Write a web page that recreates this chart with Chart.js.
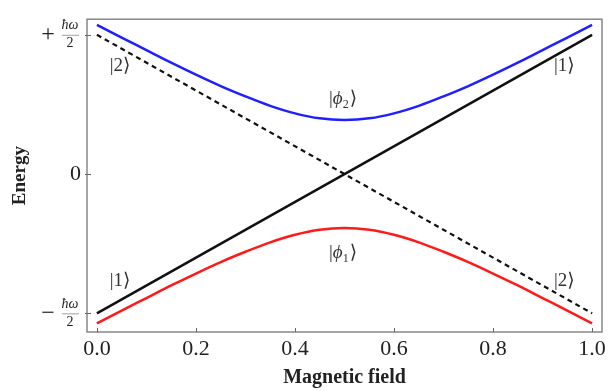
<!DOCTYPE html>
<html>
<head>
<meta charset="utf-8">
<script src="https://cdn.jsdelivr.net/npm/chart.js@4.4.1/dist/chart.umd.min.js"></script>
<style>
  html, body { margin: 0; padding: 0; background: #fff; }
</style>
</head>
<body>
<canvas id="levels" width="610" height="391"></canvas>
<script>
// magnetic field samples and energies (units of hbar*omega)
const field = [0, 0.05, 0.1, 0.15, 0.2, 0.25, 0.3, 0.35, 0.4, 0.45, 0.5,
               0.55, 0.6, 0.65, 0.7, 0.75, 0.8, 0.85, 0.9, 0.95, 1];
const upperEnergy = [0.536, 0.49, 0.445, 0.4, 0.357, 0.316, 0.279, 0.245, 0.218, 0.2, 0.194,
                     0.2, 0.218, 0.245, 0.279, 0.316, 0.357, 0.4, 0.445, 0.49, 0.536];
const lowerEnergy = [-0.536, -0.49, -0.445, -0.4, -0.357, -0.316, -0.279, -0.245, -0.218, -0.2, -0.194,
                     -0.2, -0.218, -0.245, -0.279, -0.316, -0.357, -0.4, -0.445, -0.49, -0.536];
const diabaticField = [0, 1];
const state1Energy = [-0.5, 0.5];
const state2Energy = [0.5, -0.5];

const xTicks = [0, 0.2, 0.4, 0.6, 0.8, 1];
const yTicks = [-0.5, 0, 0.5];

// state labels: [ket content, subscript, field, energy]
const stateLabels = [
    ['2', '', 0.048, 0.387],
    ['1', '', 0.945, 0.387],
    ['\u03D5', '2', 0.497, 0.268],
    ['\u03D5', '1', 0.497, -0.285],
    ['1', '', 0.048, -0.384],
    ['2', '', 0.945, -0.384],
];

const SERIF = '"Liberation Serif", "DejaVu Serif", serif';

function toPoints(xs, ys) {
    return xs.map((x, i) => ({ x: x, y: ys[i] }));
}

// frame, inward ticks, fraction tick labels and ket labels
const decorPlugin = {
    id: 'decor',
    afterDraw(chart) {
        const ctx = chart.ctx;
        const area = chart.chartArea;
        const xs = chart.scales.x;
        const ys = chart.scales.y;
        ctx.save();

        ctx.strokeStyle = '#888';
        ctx.lineWidth = 1.5;
        ctx.strokeRect(area.left, area.top, area.right - area.left, area.bottom - area.top);

        ctx.strokeStyle = '#666';
        ctx.lineWidth = 1;
        ctx.beginPath();
        xTicks.forEach((v) => {
            const px = Math.round(xs.getPixelForValue(v)) + 0.5;
            ctx.moveTo(px, area.bottom);
            ctx.lineTo(px, area.bottom - 4);
        });
        yTicks.forEach((v) => {
            const py = Math.round(ys.getPixelForValue(v)) + 0.5;
            ctx.moveTo(area.left - 2, py);
            ctx.lineTo(area.left + 4, py);
        });
        ctx.stroke();

        // +/- hbar omega / 2
        ctx.fillStyle = '#222';
        ctx.textAlign = 'center';
        ctx.textBaseline = 'middle';
        [[0.5, '+'], [-0.5, '\u2212']].forEach(([v, sign]) => {
            const py = ys.getPixelForValue(v);
            ctx.font = '24px ' + SERIF;
            ctx.fillText(sign, 48, py);
            ctx.font = 'italic 14px ' + SERIF;
            ctx.fillText('\u0127\u03C9', 70, py - 9);
            ctx.font = '14px ' + SERIF;
            ctx.fillText('2', 70, py + 9);
            ctx.beginPath();
            ctx.strokeStyle = '#888';
            ctx.lineWidth = 0.8;
            ctx.moveTo(62, py + 0.5);
            ctx.lineTo(79, py + 0.5);
            ctx.stroke();
        });

        ctx.fillStyle = '#333';
        ctx.textAlign = 'left';
        stateLabels.forEach(([core, sub, fx, fy]) => {
            const px = xs.getPixelForValue(fx);
            const py = ys.getPixelForValue(fy);
            const coreFont = (sub ? 'italic ' : '') + '19px ' + SERIF;
            ctx.font = '19px ' + SERIF;
            const wBar = ctx.measureText('|').width;
            const wRight = ctx.measureText('\u27E9').width;
            ctx.font = coreFont;
            const wCore = ctx.measureText(core).width;
            ctx.font = '12px ' + SERIF;
            const wSub = sub ? ctx.measureText(sub).width : 0;
            let x0 = px - (wBar + wCore + wSub + wRight + 1) / 2;
            ctx.font = '19px ' + SERIF;
            ctx.fillText('|', x0, py);
            x0 += wBar;
            ctx.font = coreFont;
            ctx.fillText(core, x0, py);
            x0 += wCore;
            if (sub) {
                ctx.font = '12px ' + SERIF;
                ctx.fillText(sub, x0, py + 5);
                x0 += wSub + 1;
            }
            ctx.font = '19px ' + SERIF;
            ctx.fillText('\u27E9', x0, py);
        });
        ctx.restore();
    },
};

new Chart(document.getElementById('levels'), {
    type: 'line',
    data: {
        datasets: [
            {
                label: 'upper',
                data: toPoints(field, upperEnergy),
                borderColor: '#1f1fff',
                borderWidth: 2.5,
                pointRadius: 0,
                cubicInterpolationMode: 'monotone',
            },
            {
                label: 'lower',
                data: toPoints(field, lowerEnergy),
                borderColor: '#ff1a1a',
                borderWidth: 2.5,
                pointRadius: 0,
                cubicInterpolationMode: 'monotone',
            },
            {
                label: 'state 1',
                data: toPoints(diabaticField, state1Energy),
                borderColor: '#111',
                borderWidth: 2.5,
                pointRadius: 0,
            },
            {
                label: 'state 2',
                data: toPoints(diabaticField, state2Energy),
                borderColor: '#111',
                borderWidth: 2.2,
                borderDash: [5, 4],
                pointRadius: 0,
            },
        ],
    },
    options: {
        responsive: false,
        animation: false,
        layout: { padding: { left: 0, top: 13, right: 8, bottom: 0 } },
        plugins: {
            legend: { display: false },
            tooltip: { enabled: false },
        },
        scales: {
            x: {
                type: 'linear',
                min: -0.02,
                max: 1.02,
                afterBuildTicks: (scale) => {
                    scale.ticks = xTicks.map((v) => ({ value: v }));
                },
                afterFit: (scale) => {
                    scale.height = 59;
                },
                grid: { display: false, drawTicks: false },
                border: { display: false },
                ticks: {
                    padding: 4,
                    color: '#222',
                    font: { family: SERIF, size: 22 },
                    maxRotation: 0,
                    callback: (v) => v.toFixed(1),
                },
                title: {
                    display: true,
                    text: 'Magnetic field',
                    color: '#222',
                    font: { family: SERIF, size: 20, weight: 'bold' },
                    padding: { top: 0, bottom: 1 },
                },
            },
            y: {
                type: 'linear',
                min: -0.567,
                max: 0.556,
                afterBuildTicks: (scale) => {
                    scale.ticks = yTicks.map((v) => ({ value: v }));
                },
                afterFit: (scale) => {
                    scale.width = 87;
                },
                grid: { display: false, drawTicks: false },
                border: { display: false },
                ticks: {
                    padding: 6,
                    color: '#222',
                    font: { family: SERIF, size: 22 },
                    callback: (v) => (v === 0 ? '0' : ''),
                },
                title: {
                    display: true,
                    text: 'Energy',
                    color: '#222',
                    font: { family: SERIF, size: 19, weight: 'bold' },
                    padding: { top: 9, bottom: 0 },
                },
            },
        },
    },
    plugins: [decorPlugin],
});
</script>
</body>
</html>
